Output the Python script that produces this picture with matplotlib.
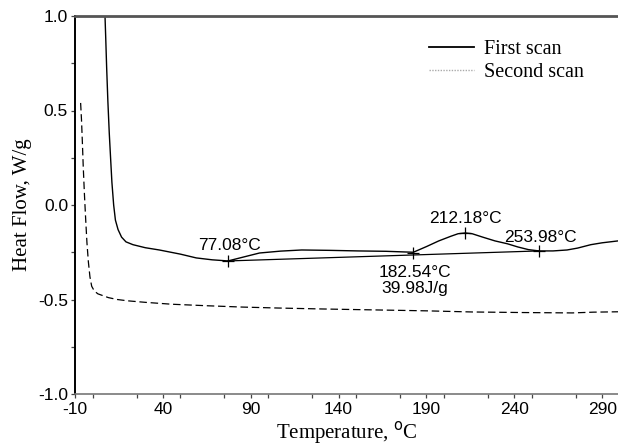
import matplotlib
matplotlib.use("Agg")
import matplotlib.pyplot as plt
from matplotlib.lines import Line2D
from matplotlib.ticker import MultipleLocator

# ---------------- data ----------------
first_T = [7.0, 7.5, 8.0, 8.7, 9.5, 10.3, 11.0, 12.0, 13.0, 14.5, 16.5, 19, 23, 30, 38,
           50, 59, 68, 77.08, 86, 95, 107, 119, 135, 151, 167, 182.54, 190, 197, 204,
           208, 212.18, 216, 222, 229, 236, 242, 248, 253.98, 262, 270, 276, 283.5, 290, 299]
first_H = [1.02, 0.88, 0.73, 0.55, 0.38, 0.24, 0.12, 0.0, -0.08, -0.13, -0.17, -0.195, -0.21,
           -0.226, -0.238, -0.26, -0.28, -0.29, -0.296, -0.275, -0.254, -0.244, -0.238, -0.24,
           -0.243, -0.245, -0.25, -0.22, -0.19, -0.165, -0.152, -0.148, -0.152, -0.17, -0.19,
           -0.205, -0.222, -0.236, -0.243, -0.243, -0.238, -0.228, -0.21, -0.2, -0.19]

second_T = [-6.8, -6.3, -5.8, -5.3, -4.6, -3.9, -3.2, -2.4, -1.5, -0.5, 1.0, 3.0, 6, 9, 14,
            20, 30, 45, 65, 85, 105, 130, 160, 190, 216, 245, 273, 285, 299]
second_H = [0.54, 0.45, 0.33, 0.2, 0.05, -0.08, -0.2, -0.3, -0.38, -0.43, -0.455, -0.47,
            -0.48, -0.49, -0.5, -0.507, -0.515, -0.525, -0.533, -0.54, -0.545, -0.55,
            -0.555, -0.56, -0.566, -0.569, -0.571, -0.567, -0.565]

# characteristic points (temperature, heat flow) and labels
mark_T = [77.08, 182.54, 212.18, 253.98]
mark_H = [-0.296, -0.255, -0.150, -0.243]
baseline_T = [77.08, 253.98]
baseline_H = [-0.296, -0.243]

ann_text = ["77.08°C", "212.18°C", "253.98°C", "182.54°C\n39.98J/g"]
ann_T = [77.8, 212.0, 255.0, 183.5]
ann_H = [-0.215, -0.07, -0.17, -0.40]

x_ticks = [-10, 40, 90, 140, 190, 240, 290]
y_ticks = [-1.0, -0.5, 0.0, 0.5, 1.0]

# ---------------- figure ----------------
sans = ["Liberation Sans", "DejaVu Sans"]
serif = ["Liberation Serif", "DejaVu Serif"]

fig = plt.figure(figsize=(6.18, 4.45), dpi=100)
ax = fig.add_axes([75 / 618, 1 - 394 / 445, 1 - 75 / 618, (394 - 16) / 445])

ax.plot(first_T, first_H, color="black", lw=1.0, solid_joinstyle="round")
ax.plot(second_T, second_H, color="black", lw=0.9, linestyle=(0, (6, 3)))
ax.plot(baseline_T, baseline_H, color="black", lw=0.9)
ax.plot(mark_T, mark_H, linestyle="none", marker="+", markersize=9,
        markeredgewidth=0.9, color="black")

for t, x, y in zip(ann_text, ann_T, ann_H):
    ax.text(x, y, t, ha="center", va="center", fontsize=12.5, family=sans,
            linespacing=1.05)

ax.set_xlim(-10, 299)
ax.set_ylim(-1.0, 1.0)
ax.set_xticks(x_ticks)
ax.set_yticks(y_ticks)
ax.set_xticklabels([str(v) for v in x_ticks], family=sans, fontsize=12.5)
ax.set_yticklabels([f"{v:.1f}" for v in y_ticks], family=sans, fontsize=12.5)
ax.xaxis.set_minor_locator(MultipleLocator(25))
ax.yaxis.set_minor_locator(MultipleLocator(0.25))
ax.tick_params(axis="both", which="both", direction="out", length=3, width=0.9,
               pad=2, color="#444444")
ax.tick_params(axis="x", which="major", pad=3)

ax.spines["right"].set_visible(False)
ax.spines["top"].set_color("#555555")
ax.spines["top"].set_linewidth(2.0)
ax.spines["bottom"].set_color("#777777")
ax.spines["bottom"].set_linewidth(1.2)
ax.spines["left"].set_color("black")
ax.spines["left"].set_linewidth(1.4)

ax.set_xlabel("Temperature, $^{\\rm o}$C", family=serif, fontsize=15, labelpad=1)
ax.set_ylabel("Heat Flow, W/g", family=serif, fontsize=15, labelpad=4)

handles = [Line2D([], [], color="black", lw=1.3),
           Line2D([], [], color="#aaaaaa", lw=1.0, linestyle=(0, (1, 1)))]
ax.legend(handles, ["First scan", "Second scan"], loc="upper right",
          bbox_to_anchor=(0.97, 0.985), frameon=False, handlelength=2.2,
          handletextpad=0.5, labelspacing=0.2, prop={"family": serif, "size": 14.5})

fig.savefig("out.png", dpi=100)
